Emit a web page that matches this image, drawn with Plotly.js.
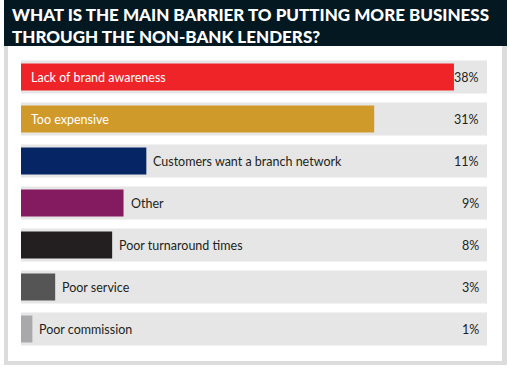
<!DOCTYPE html>
<html>
<head>
<meta charset="utf-8">
<script src="https://cdn.plot.ly/plotly-3.0.1.min.js"></script>
<style>html,body{margin:0;padding:0;background:#fff;}#chart{width:509px;height:368px;}</style>
</head>
<body>
<div id="chart"></div>
<script>
const categories = ["Lack of brand awareness", "Too expensive", "Customers want a branch network", "Other", "Poor turnaround times", "Poor service", "Poor commission"];
const values = [38, 31, 11, 9, 8, 3, 1];
const barColors = ["#ef2429", "#cf9a2a", "#052565", "#841a5f", "#231f20", "#555556", "#a9a9ac"];
const percentLabels = ["38%", "31%", "11%", "9%", "8%", "3%", "1%"];
const titleLines = ["WHAT IS THE MAIN BARRIER TO PUTTING MORE BUSINESS", "THROUGH THE NON-BANK LENDERS?"];

const W = 509, H = 368;
const M = {l: 21, r: 22, t: 56, b: 18};
const xMax = 40.9;
const pw = W - M.l - M.r, ph = H - M.t - M.b;
const px = v => (v - M.l) / pw;
const py = v => (H - M.b - v) / ph;
const labelFont = "Lato, 'DejaVu Sans', sans-serif";

const tracks = {
  type: "bar", orientation: "h",
  y: categories, x: categories.map(() => xMax),
  width: 0.786, marker: {color: "#e6e6e6"},
  hoverinfo: "skip", showlegend: false
};
const bars = {
  type: "bar", orientation: "h",
  y: categories, x: values,
  width: 0.643, marker: {color: barColors},
  hoverinfo: "x+y", showlegend: false
};

const annotations = [];
categories.forEach((c, i) => {
  const inside = values[i] >= 20;
  annotations.push({
    x: inside ? 0 : values[i], y: c, xref: "x", yref: "y",
    text: c, showarrow: false, xanchor: "left", yanchor: "middle",
    xshift: inside ? 8 : 5,
    font: {family: labelFont, size: 12.5, color: inside ? "#ffffff" : "#231f20"}
  });
  annotations.push({
    x: xMax, y: c, xref: "x", yref: "y",
    text: percentLabels[i], showarrow: false, xanchor: "right", yanchor: "middle",
    xshift: -6,
    font: {family: labelFont, size: 12.5, color: "#231f20"}
  });
});

const shapes = [
  {type: "rect", xref: "paper", yref: "paper", layer: "below", x0: px(4), x1: px(507), y0: py(365), y1: py(46), fillcolor: "#dcdcdc", line: {width: 0}},
  {type: "rect", xref: "paper", yref: "paper", layer: "below", x0: px(8), x1: px(502), y0: py(361), y1: py(46), fillcolor: "#ffffff", line: {width: 0}},
  {type: "rect", xref: "paper", yref: "paper", layer: "below", x0: px(4), x1: px(507), y0: py(46), y1: py(0), fillcolor: "#041822", line: {width: 0}}
];

const layout = {
  width: W, height: H,
  margin: M,
  paper_bgcolor: "#ffffff",
  plot_bgcolor: "rgba(0,0,0,0)",
  barmode: "overlay",
  title: {
    text: titleLines.join("<br>"),
    x: 12 / W, xref: "container", xanchor: "left",
    y: 1 - 21 / H, yref: "container", yanchor: "top",
    font: {family: labelFont, size: 17, color: "#ffffff", weight: 900}
  },
  xaxis: {range: [0, xMax], visible: false, fixedrange: true},
  yaxis: {type: "category", categoryarray: categories, range: [6.5, -0.5], visible: false, fixedrange: true},
  shapes: shapes,
  annotations: annotations,
  showlegend: false
};

Plotly.newPlot("chart", [tracks, bars], layout, {displayModeBar: false, staticPlot: true});
</script>
</body>
</html>
